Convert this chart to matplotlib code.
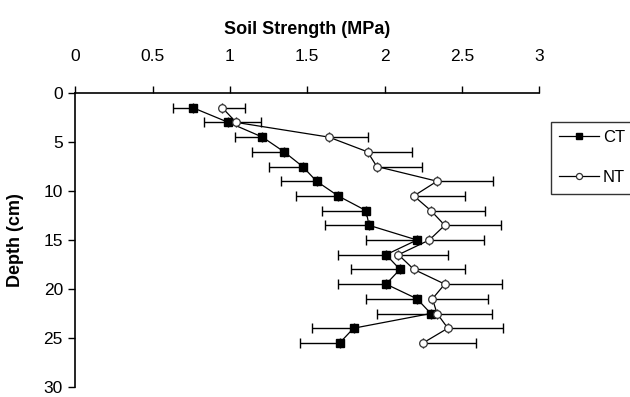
import matplotlib
matplotlib.use('Agg')
import matplotlib.pyplot as plt

depth = [1.5, 3, 4.5, 6, 7.5, 9, 10.5, 12, 13.5, 15, 16.5, 18, 19.5, 21, 22.5, 24, 25.5]
ct = [0.76, 0.99, 1.21, 1.35, 1.47, 1.56, 1.70, 1.88, 1.90, 2.21, 2.01, 2.10, 2.01, 2.21, 2.30, 1.80, 1.71]
ct_err = [0.13, 0.16, 0.18, 0.21, 0.22, 0.23, 0.27, 0.285, 0.285, 0.33, 0.31, 0.32, 0.31, 0.33, 0.35, 0.27, 0.26]
nt = [0.95, 1.04, 1.64, 1.89, 1.95, 2.34, 2.19, 2.30, 2.39, 2.29, 2.09, 2.19, 2.39, 2.31, 2.34, 2.41, 2.25]
nt_err = [0.15, 0.16, 0.25, 0.29, 0.295, 0.36, 0.33, 0.35, 0.365, 0.355, 0.32, 0.33, 0.37, 0.36, 0.354, 0.36, 0.34]

xticks = [0, 0.5, 1, 1.5, 2, 2.5, 3]
xticklabels = ['0', '0.5', '1', '1.5', '2', '2.5', '3']
yticks = [0, 5, 10, 15, 20, 25, 30]

plt.rcParams['font.family'] = ['Liberation Sans', 'DejaVu Sans']

fig = plt.figure(figsize=(6.3, 3.97), dpi=100)
ax = fig.add_axes([0.1198, 0.0252, 0.7358, 0.7405])

zeros = [0] * len(depth)
ax.errorbar(ct, depth, xerr=[ct_err, zeros], fmt='none', ecolor='black',
            elinewidth=1, capsize=3.5, capthick=1)
ax.errorbar(nt, depth, xerr=[zeros, nt_err], fmt='none', ecolor='black',
            elinewidth=1, capsize=3.5, capthick=1)
ax.plot(ct, depth, color='black', lw=0.9, marker='s', ms=6,
        mfc='black', mec='black', label='CT')
ax.plot(nt, depth, color='black', lw=0.9, marker='o', ms=5.5,
        mfc='white', mec='#333333', mew=0.9, label='NT')

ax.set_xlim(0, 3)
ax.set_ylim(30, 0)
ax.xaxis.tick_top()
ax.xaxis.set_label_position('top')
ax.set_xticks(xticks)
ax.set_xticklabels(xticklabels)
ax.set_yticks(yticks)
ax.tick_params(axis='both', direction='out', length=5, width=1, labelsize=12.5)
ax.tick_params(axis='x', pad=16)
ax.tick_params(axis='y', pad=4)
for s in ['right', 'bottom']:
    ax.spines[s].set_visible(False)
for s in ['top', 'left']:
    ax.spines[s].set_linewidth(1.2)

ax.set_xlabel('Soil Strength (MPa)', fontsize=13, fontweight='bold', labelpad=11)
ax.set_ylabel('Depth (cm)', fontsize=13, fontweight='bold', labelpad=14)

leg = ax.legend(loc='upper left', bbox_to_anchor=(1.007, 0.93), frameon=True,
                fancybox=False, edgecolor='black', fontsize=12,
                handlelength=2.4, handletextpad=0.25, borderpad=0.5,
                labelspacing=1.5, markerscale=0.8)
leg.get_frame().set_linewidth(1.0)

fig.savefig('out.png', dpi=100)
